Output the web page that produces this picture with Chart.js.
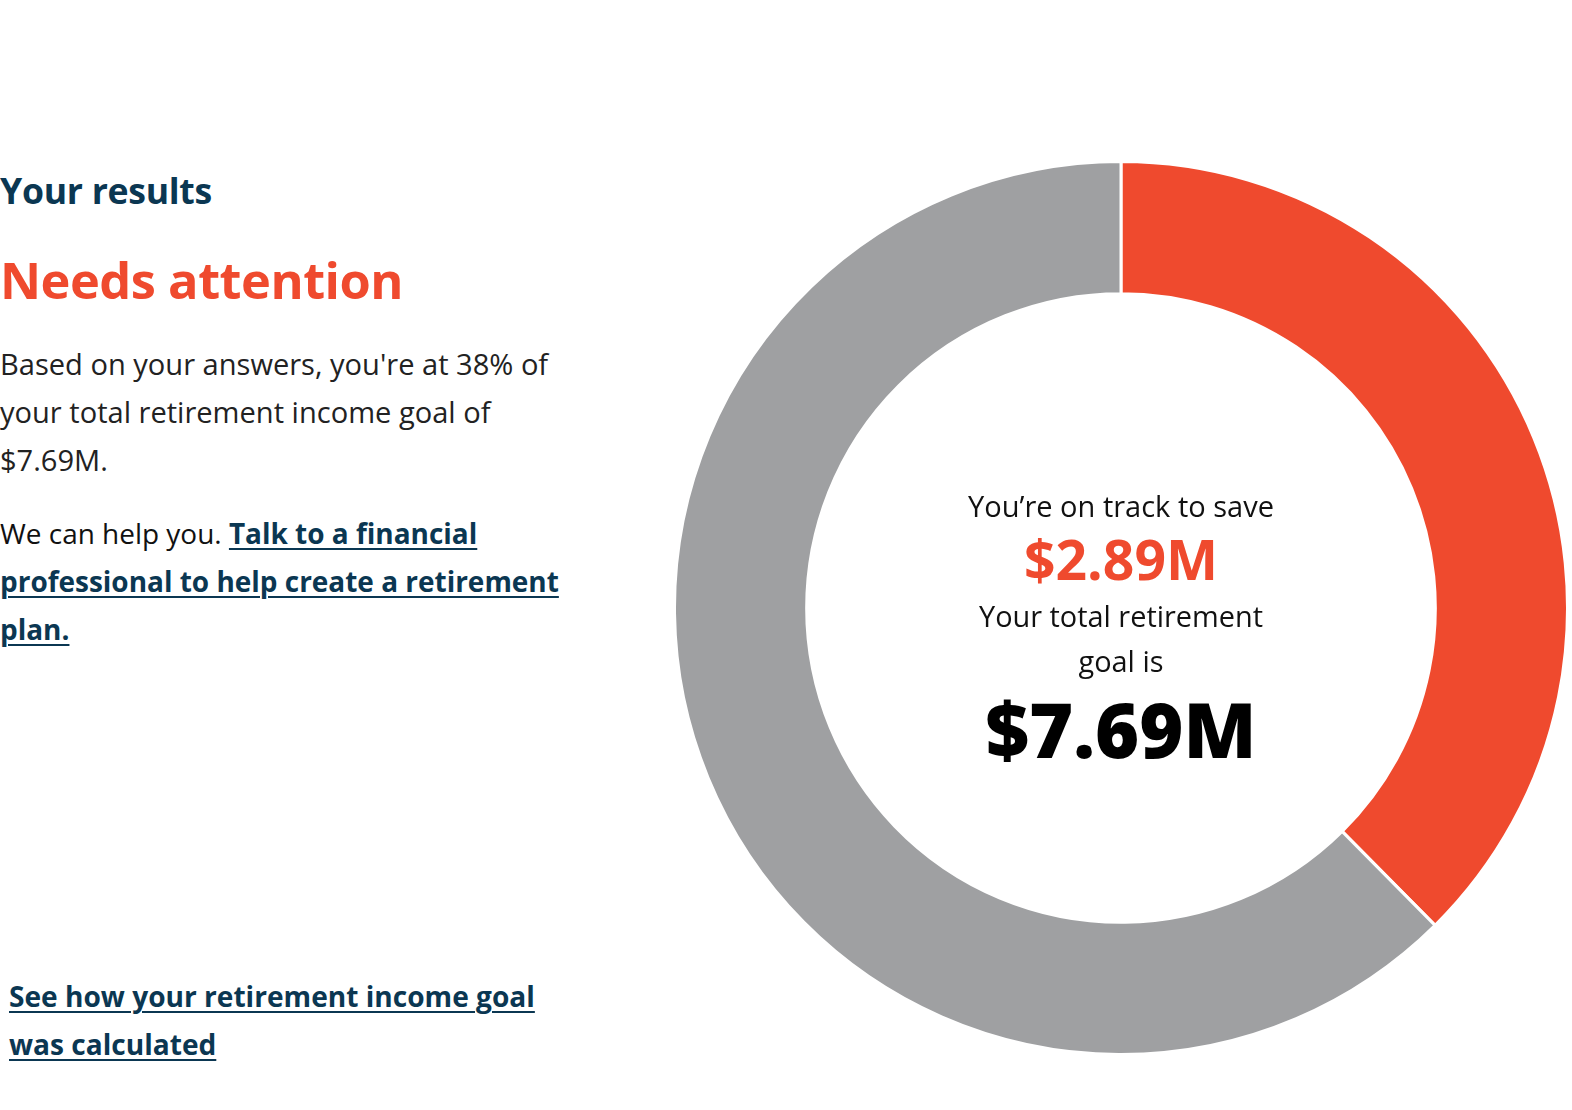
<!DOCTYPE html>
<html>
<head>
<meta charset="utf-8">
<script src="https://cdn.jsdelivr.net/npm/chart.js@4.4.0/dist/chart.umd.min.js"></script>
<style>
  html, body { margin: 0; padding: 0; background: #fff; }
  body { width: 1572px; height: 1110px; position: relative; overflow: hidden; font-family: "Open Sans", Lato, sans-serif; }
  .abs { position: absolute; white-space: nowrap; }
  .navy { color: #0b3752; }
  .red { color: #ef4a2e; }
  a { color: #0b3752; font-weight: 700; text-decoration: underline; text-decoration-thickness: 2px; text-underline-offset: 4px; }
  #chartBox { position: absolute; left: 673px; top: 160px; width: 896px; height: 896px; }
  .center { position: absolute; left: 921px; width: 400px; text-align: center; white-space: nowrap; }
  .fit { display: inline-block; }
</style>
</head>
<body>
<div class="abs navy" data-w="212" data-b="204" data-lh="40" style="left:0; font-size:30px; font-weight:700; letter-spacing:-0.3px;"><span class="fit">Your results</span></div>
<div class="abs red" data-w="403" data-b="300" data-lh="60" style="left:0; font-size:48px; font-weight:700; letter-spacing:-0.5px;"><span class="fit">Needs attention</span></div>
<div class="abs" data-w="548" data-b="375" data-lh="48" style="left:0; font-size:26px; color:#222;"><span class="fit">Based on your answers, you're at 38% of<br>your total retirement income goal of<br>$7.69M.</span></div>
<div class="abs" data-w="559" data-b="544" data-lh="48" style="left:0; font-size:26px; color:#111;"><span class="fit">We can help you. <a href="#">Talk to a financial</a><br><a href="#">professional to help create a retirement</a><br><a href="#">plan.</a></span></div>
<div class="abs" data-w="526" data-b="1007" data-lh="48" style="left:9px; font-size:26px;"><span class="fit"><a href="#">See how your retirement income goal</a><br><a href="#">was calculated</a></span></div>

<div id="chartBox"><canvas id="c"></canvas></div>

<div class="center" data-w="306" data-b="517" data-lh="48" style="font-size:26px; color:#111;"><span class="fit">You’re on track to save</span></div>
<div class="center red" data-w="194" data-b="580" data-lh="60" style="font-size:52px; font-weight:700;"><span class="fit">$2.89M</span></div>
<div class="center" data-w="284" data-b="627" data-lh="45" style="font-size:26px; color:#111;"><span class="fit">Your total retirement<br>goal is</span></div>
<div class="center" data-w="271" data-b="758" data-lh="90" style="font-size:76px; font-weight:800; color:#000;"><span class="fit">$7.69M</span></div>

<script>
const categories = ["On track to save", "Remaining to goal"];
const savedValue = 2.89;
const goalValue = 7.69;
const seriesValues = [savedValue, +(goalValue - savedValue).toFixed(2)];
const segmentColors = ["#ef4a2e", "#9fa0a2"];

// fit text blocks to the reference widths and baselines
document.querySelectorAll("[data-w]").forEach(el => {
  const span = el.querySelector(".fit");
  const target = +el.dataset.w;
  let size = parseFloat(getComputedStyle(el).fontSize);
  for (let i = 0; i < 3; i++) {
    const w = span.getBoundingClientRect().width;
    size = size * target / w;
    el.style.fontSize = size.toFixed(2) + "px";
  }
  const lh = +el.dataset.lh;
  el.style.lineHeight = lh + "px";
  el.style.top = (+el.dataset.b - lh / 2 - 0.388 * size).toFixed(1) + "px";
});

new Chart(document.getElementById("c"), {
  type: "doughnut",
  data: {
    labels: categories,
    datasets: [{
      data: seriesValues,
      backgroundColor: segmentColors,
      borderColor: "#ffffff",
      borderWidth: 3,
      hoverOffset: 0
    }]
  },
  options: {
    responsive: true,
    maintainAspectRatio: false,
    animation: false,
    cutout: "70.4%",
    layout: { padding: 0 },
    plugins: { legend: { display: false }, tooltip: { enabled: false } }
  }
});
</script>
</body>
</html>
